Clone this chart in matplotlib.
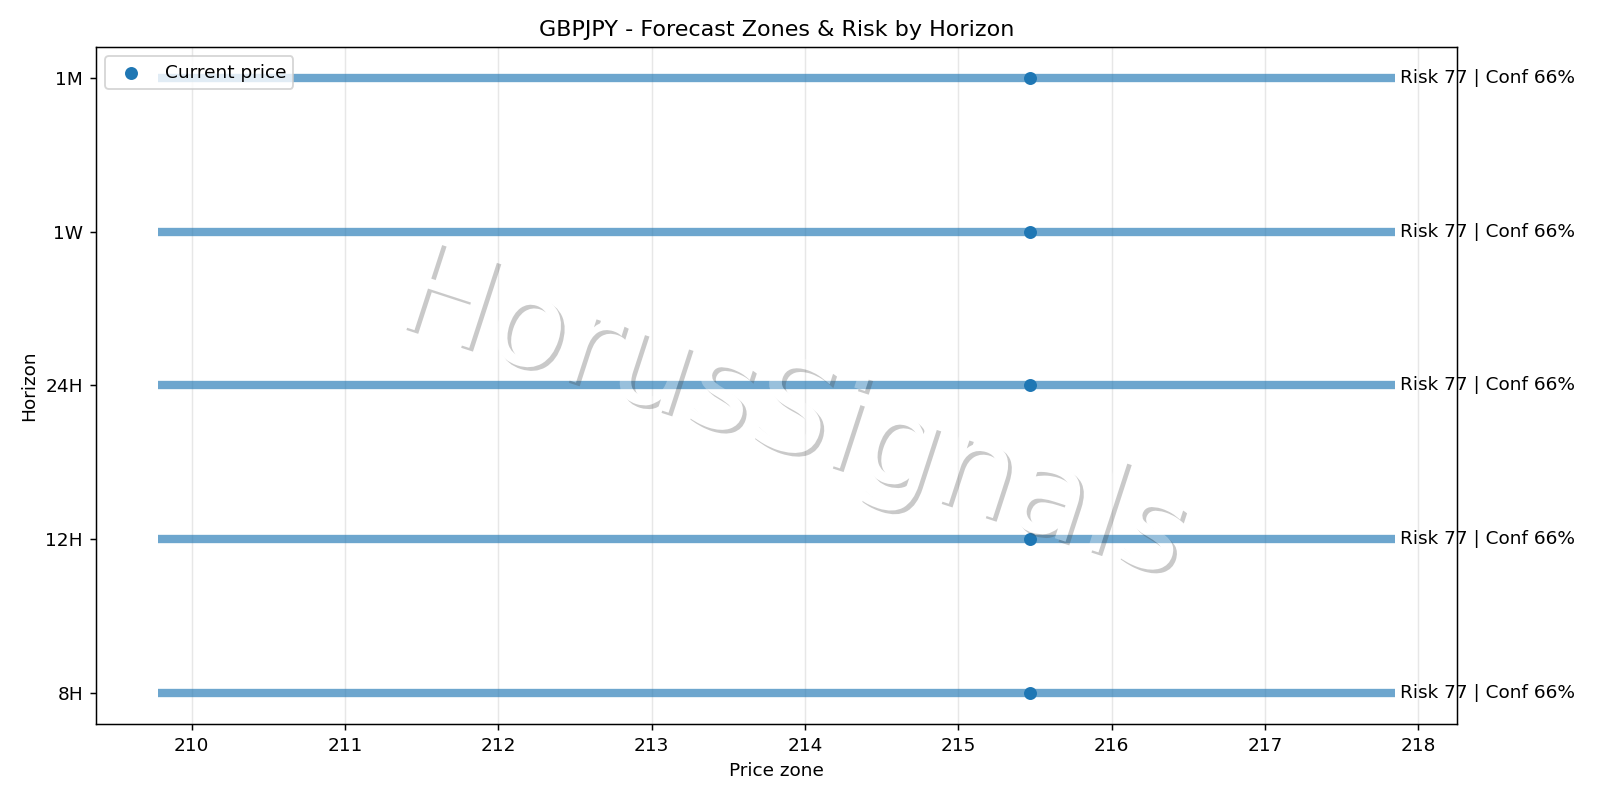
import matplotlib
matplotlib.use('Agg')
import matplotlib.pyplot as plt
import matplotlib.patheffects as pe

# Forecast zones per horizon
horizons = ['8H', '12H', '24H', '1W', '1M']
zone_low = [209.78, 209.78, 209.78, 209.78, 209.78]
zone_high = [217.85, 217.85, 217.85, 217.85, 217.85]
current_price = 215.47
risk = [77, 77, 77, 77, 77]
conf = [66, 66, 66, 66, 66]


def fade(im, dpi):
    # draw the whole watermark (shadow + fill) as one semi-transparent layer
    im = im.copy()
    im[..., 3] *= 0.3
    return im, 0, 0


fig, ax = plt.subplots(figsize=(12, 6), dpi=1600 / 12)

y = list(range(len(horizons)))
ax.hlines(y, zone_low, zone_high, linewidth=4.5, color='#1f77b4', alpha=0.65)
ax.scatter([current_price] * len(horizons), y, color='#1f77b4', zorder=3,
           label='Current price')

for i in y:
    ax.text(zone_high[i] + 0.03, i, f'Risk {risk[i]} | Conf {conf[i]}%', va='center')

ax.set_yticks(y)
ax.set_yticklabels(horizons)
ax.set_xlabel('Price zone')
ax.set_ylabel('Horizon')
ax.set_title('GBPJPY - Forecast Zones & Risk by Horizon')
ax.grid(axis='x', alpha=0.3)
ax.legend(loc='upper left')

fig.tight_layout()

# watermark
wm = fig.text(0.495, 0.48, 'HorusSignals', fontsize=68, color='white',
              rotation=-18, ha='center', va='center',
              path_effects=[pe.SimplePatchShadow(offset=(2, -2), shadow_rgbFace='#4c4c4c', alpha=1.0),
                            pe.Normal()])
wm.set_agg_filter(fade)

fig.savefig('out.png')
